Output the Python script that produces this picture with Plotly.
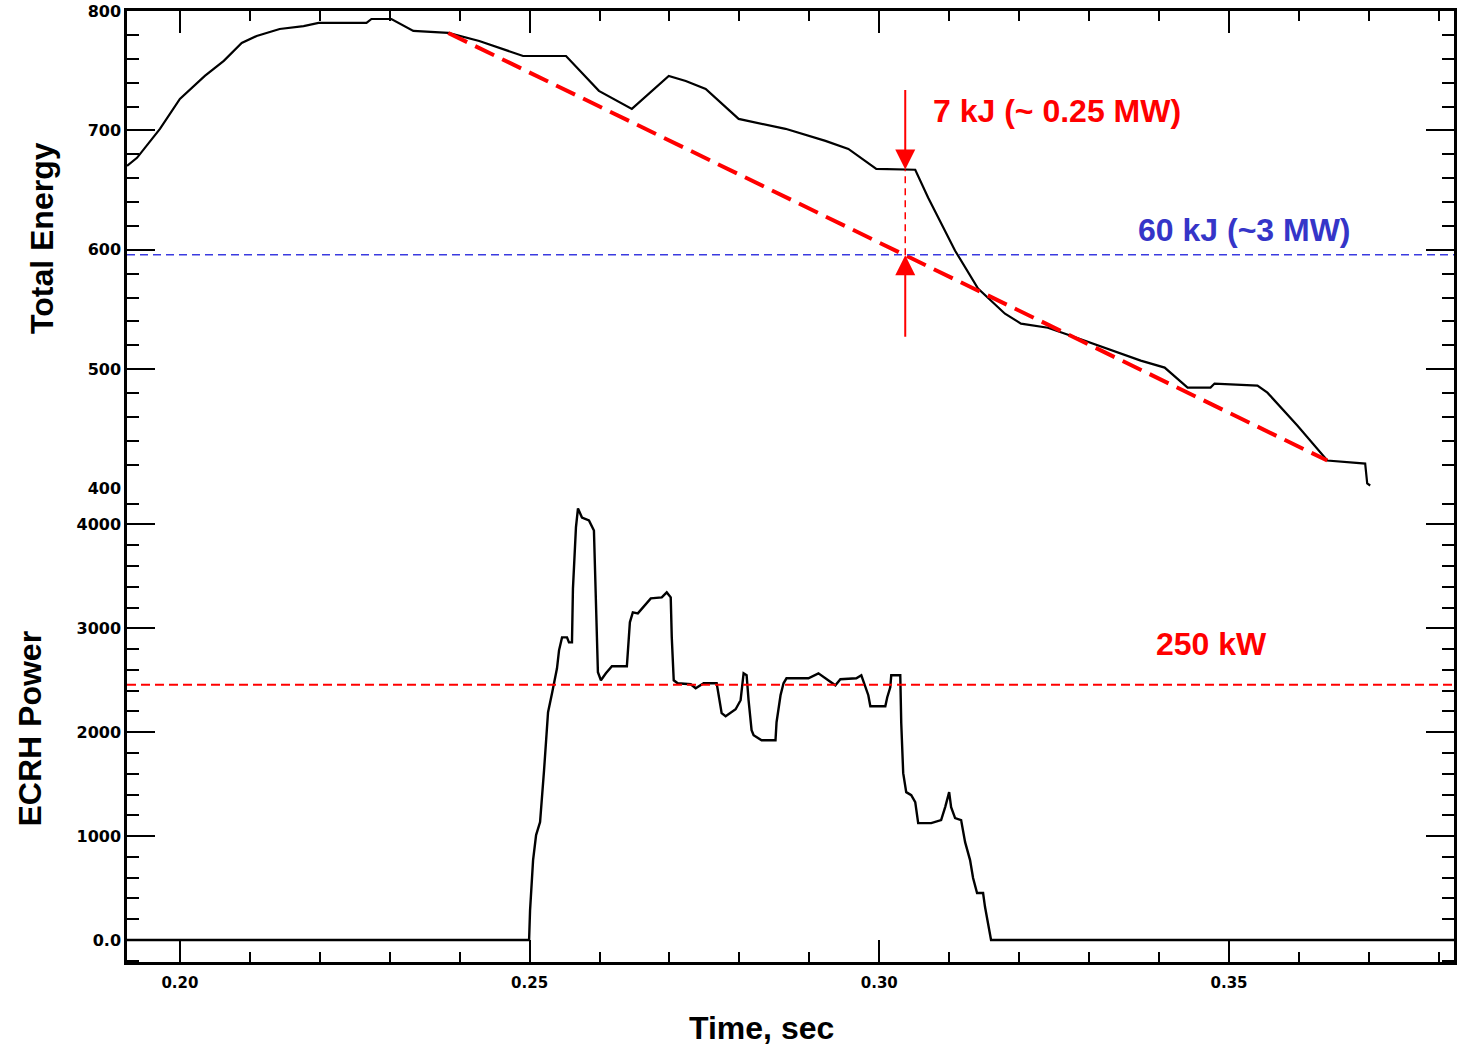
import numpy as np
import plotly.graph_objects as go

# ---- data -------------------------------------------------------------
# Total stored energy vs time (top panel)
energy_t = [0.19244, 0.19387, 0.19715, 0.20000, 0.20357, 0.20628, 0.20884, 0.21098,
            0.21427, 0.21769, 0.21983, 0.22668, 0.22739, 0.23024, 0.23338, 0.23837,
            0.24280, 0.24907, 0.25521, 0.25991, 0.26462, 0.26990, 0.27233, 0.27518,
            0.27989, 0.28659, 0.29230, 0.29558, 0.29957, 0.30514, 0.30699, 0.31084,
            0.31412, 0.31797, 0.32026, 0.32411, 0.32739, 0.33124, 0.33738, 0.34080,
            0.34408, 0.34736, 0.34793, 0.35407, 0.35549, 0.35977, 0.36405, 0.36947,
            0.36976, 0.37019]
energy_val = [670.3, 677.0, 701.3, 726.4, 745.6, 758.2, 773.2, 779.1,
              784.9, 787.4, 790.0, 790.0, 793.3, 793.3, 783.3, 781.6,
              774.9, 762.3, 762.3, 733.1, 718.0, 745.6, 741.4, 734.7,
              709.6, 701.3, 691.2, 684.5, 667.8, 667.0, 643.5, 599.2,
              567.4, 546.4, 538.1, 534.7, 528.0, 519.7, 507.1, 501.3,
              484.5, 484.5, 487.9, 486.2, 480.3, 452.7, 423.4, 420.9,
              404.2, 402.5]

# ECRH power vs time (bottom panel)
ecrh_t = [0.19244, 0.24993, 0.25007, 0.25050, 0.25093, 0.25150, 0.25207, 0.25264,
          0.25321, 0.25392, 0.25421, 0.25464, 0.25535, 0.25563, 0.25606, 0.25620,
          0.25663, 0.25692, 0.25749, 0.25849, 0.25920, 0.25949, 0.25977, 0.26020,
          0.26091, 0.26177, 0.26391, 0.26434, 0.26476, 0.26548, 0.26733, 0.26890,
          0.26961, 0.27018, 0.27033, 0.27061, 0.27118, 0.27304, 0.27375, 0.27489,
          0.27675, 0.27746, 0.27803, 0.27946, 0.28017, 0.28060, 0.28103, 0.28131,
          0.28174, 0.28203, 0.28317, 0.28516, 0.28531, 0.28588, 0.28631, 0.28673,
          0.28987, 0.29130, 0.29244, 0.29372, 0.29444, 0.29672, 0.29743, 0.29800,
          0.29843, 0.29872, 0.30086, 0.30114, 0.30157, 0.30171, 0.30300, 0.30314,
          0.30342, 0.30385, 0.30457, 0.30514, 0.30556, 0.30742, 0.30884, 0.30942,
          0.30999, 0.31027, 0.31084, 0.31170, 0.31227, 0.31298, 0.31341, 0.31398,
          0.31484, 0.31512, 0.31569, 0.31598, 0.38217]
ecrh_val = [0, 0, 288, 769, 1010, 1135, 1635, 2192,
            2375, 2615, 2788, 2913, 2913, 2865, 2865, 3385,
            3971, 4154, 4067, 4038, 3942, 3269, 2577, 2500,
            2567, 2635, 2635, 3058, 3154, 3144, 3288, 3298,
            3346, 3298, 2913, 2500, 2471, 2462, 2423, 2471,
            2471, 2183, 2154, 2221, 2308, 2567, 2548, 2308,
            2019, 1971, 1923, 1923, 2096, 2356, 2471, 2519,
            2519, 2567, 2510, 2452, 2510, 2519, 2548, 2433,
            2356, 2250, 2250, 2337, 2433, 2548, 2548, 2087,
            1606, 1423, 1394, 1327, 1125, 1125, 1154, 1279,
            1423, 1279, 1173, 1154, 942, 769, 596, 452,
            452, 317, 125, 0, 0]

# Linear decay fit of the stored energy
fit_t = [0.23837, 0.36405]
fit_val = [781.6, 423.4]

ref_energy = 595.8      # 60 kJ reference level
ecrh_mean = 2457        # mean ECRH power level
mark_t = 0.30371        # time where the gap to the fit is marked

energy_ticks = [400, 500, 600, 700, 800]
energy_labels = ["400", "500", "600", "700", "800"]
ecrh_ticks = [0, 1000, 2000, 3000, 4000]
ecrh_labels = ["0.0", "1000", "2000", "3000", "4000"]

# ---- styling ----------------------------------------------------------
RED = "#FF0000"
BLUE_TXT = "#3535C8"
BLUE_LINE = "#3B3BE0"
TITLE_FONT = dict(family="Liberation Sans, Arial", size=32, color="black", weight="bold")
TICK_FONT_Y = dict(family="DejaVu Sans", size=16, color="black", weight="bold")
TICK_FONT_X = dict(family="DejaVu Sans", size=15, color="black", weight="bold")

x_range = [0.19244, 0.38217]
split = 0.4979

fig = go.Figure()

fig.add_trace(go.Scatter(x=energy_t, y=energy_val, xaxis="x2", yaxis="y",
                         mode="lines", line=dict(color="black", width=2.2),
                         showlegend=False, hoverinfo="skip"))
fig.add_trace(go.Scatter(x=fit_t, y=fit_val, xaxis="x2", yaxis="y",
                         mode="lines", line=dict(color=RED, width=4, dash="21px,9px"),
                         showlegend=False, hoverinfo="skip"))
fig.add_trace(go.Scatter(x=ecrh_t, y=ecrh_val, xaxis="x", yaxis="y2",
                         mode="lines", line=dict(color="black", width=2.4),
                         showlegend=False, hoverinfo="skip"))

# reference levels
fig.add_shape(type="line", xref="paper", x0=0, x1=1, yref="y",
              y0=ref_energy, y1=ref_energy,
              line=dict(color=BLUE_LINE, width=1.5, dash="8px,5px"))
fig.add_shape(type="line", xref="paper", x0=0, x1=1, yref="y2",
              y0=ecrh_mean, y1=ecrh_mean,
              line=dict(color=RED, width=2, dash="9px,5px"))

# gap between measured energy and the fit at mark_t
e_meas = float(np.interp(mark_t, energy_t, energy_val))
e_fit = float(np.interp(mark_t, fit_t, fit_val))
fig.add_shape(type="line", xref="x2", yref="y", x0=mark_t, x1=mark_t,
              y0=e_fit, y1=e_meas, line=dict(color=RED, width=1.5, dash="7px,5px"))

arrow_common = dict(xref="x2", yref="y", text="", showarrow=True, arrowhead=2,
                    arrowsize=2, arrowwidth=2, arrowcolor=RED, ax=0)
fig.add_annotation(x=mark_t, y=e_meas, ay=-81, **arrow_common)
fig.add_annotation(x=mark_t, y=e_fit, ay=83, **arrow_common)

# text labels
fig.add_annotation(x=0.30742, y=716.3, xref="x2", yref="y", text="7 kJ (~ 0.25 MW)",
                   showarrow=False, xanchor="left", yanchor="middle",
                   font=dict(TITLE_FONT, color=RED))
fig.add_annotation(x=0.33666, y=616.7, xref="x2", yref="y", text="60 kJ (~3 MW)",
                   showarrow=False, xanchor="left", yanchor="middle",
                   font=dict(TITLE_FONT, color=BLUE_TXT))
fig.add_annotation(x=0.33923, y=2846, xref="x", yref="y2", text="250 kW",
                   showarrow=False, xanchor="left", yanchor="middle",
                   font=dict(TITLE_FONT, color=RED))

# axis titles
fig.add_annotation(x=-0.0639, y=0.7616, xref="paper", yref="paper", text="Total Energy",
                   textangle=-90, showarrow=False, xanchor="center", yanchor="middle",
                   font=TITLE_FONT)
fig.add_annotation(x=-0.0729, y=0.2458, xref="paper", yref="paper", text="ECRH Power",
                   textangle=-90, showarrow=False, xanchor="center", yanchor="middle",
                   font=TITLE_FONT)
fig.add_annotation(x=0.4782, y=-0.0693, xref="paper", yref="paper", text="Time, sec",
                   showarrow=False, xanchor="center", yanchor="middle",
                   font=TITLE_FONT)

axis_line = dict(showline=True, linecolor="black", linewidth=2.5, showgrid=False,
                 zeroline=False, ticks="inside", tickcolor="black", tickwidth=2)

fig.update_layout(
    width=1459, height=1047,
    margin=dict(l=127, r=2, t=10, b=85),
    paper_bgcolor="white", plot_bgcolor="white",
    xaxis=dict(axis_line, range=x_range, anchor="y2", side="bottom",
               tick0=0.2, dtick=0.05, tickformat=".2f", ticklen=22,
               tickfont=TICK_FONT_X, ticklabelstandoff=5,
               minor=dict(ticks="inside", dtick=0.01, ticklen=10,
                          tickcolor="black", tickwidth=2)),
    xaxis2=dict(axis_line, range=x_range, anchor="y", side="top", matches="x",
                tick0=0.2, dtick=0.05, ticklen=22, showticklabels=False,
                minor=dict(ticks="inside", dtick=0.01, ticklen=10,
                           tickcolor="black", tickwidth=2)),
    yaxis=dict(axis_line, domain=[split, 1], range=[400, 800], mirror="ticks",
               tickvals=energy_ticks, ticktext=energy_labels, ticklen=28,
               tickfont=TICK_FONT_Y,
               minor=dict(ticks="inside", dtick=20, ticklen=12,
                          tickcolor="black", tickwidth=2)),
    yaxis2=dict(axis_line, domain=[0, split], range=[-212, 4346], mirror="ticks",
                tickvals=ecrh_ticks, ticktext=ecrh_labels, ticklen=28,
                tickfont=TICK_FONT_Y,
                minor=dict(ticks="inside", tick0=0, dtick=200, ticklen=12,
                           tickcolor="black", tickwidth=2)),
)

fig.write_html("out.html")
